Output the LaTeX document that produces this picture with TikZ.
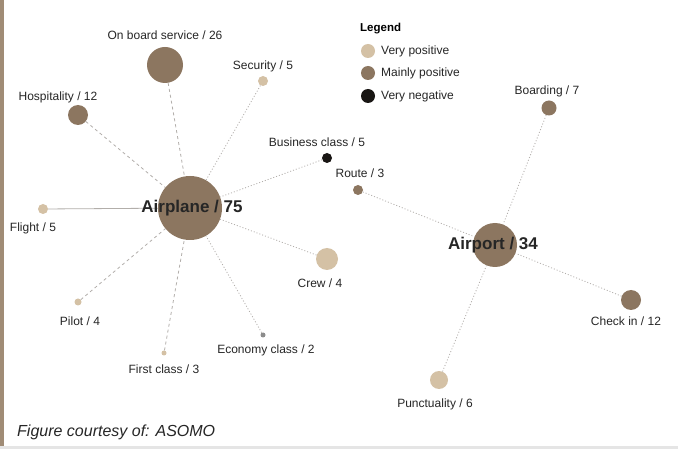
\documentclass[tikz,border=0pt]{standalone}
\usepackage{fontspec}
\setmainfont{Liberation Sans}
\definecolor{vpos}{RGB}{212,193,165}
\definecolor{mpos}{RGB}{140,118,96}
\definecolor{vneg}{RGB}{25,22,20}
\definecolor{edgec}{RGB}{178,174,170}
\definecolor{barc}{RGB}{160,140,118}
\begin{document}
\begin{tikzpicture}[x=1pt,y=-1pt,
  dot/.style={circle,inner sep=0pt,minimum size=#1,draw=none},
  fpos/.style={fill=vpos},
  fmid/.style={fill=mpos},
  fneg/.style={fill=vneg},
  lbl/.style={font=\fontsize{12}{14}\selectfont,text=black!85,inner sep=0pt},
  hub/.style={font=\bfseries\fontsize{17}{20}\selectfont,text=black!85,inner sep=0pt},
  edge/.style={draw=edgec,line width=0.8pt},
  dsh/.style={edge,dash pattern=on 3pt off 3pt},
  dtt/.style={edge,dash pattern=on 1pt off 2pt},
]
\useasboundingbox (0,0) rectangle (678,449);
\fill[white] (0,0) rectangle (678,449);
\fill[barc] (0,0) rectangle (4,446);
\fill[black!10] (0,446) rectangle (678,449);

% nodes
\node[dot=64pt,fmid] (airplane) at (190,208) {};
\node[dot=44pt,fmid] (airport) at (495,245) {};
\node[dot=36pt,fmid] (onboard) at (165,65) {};
\node[dot=10pt,fpos] (security) at (263,81) {};
\node[dot=20pt,fmid] (hosp) at (78,115) {};
\node[dot=10pt,fneg] (business) at (327,158) {};
\node[dot=10pt,fpos] (flight) at (43,209) {};
\node[dot=22pt,fpos] (crew) at (327,259) {};
\node[dot=7pt,fpos] (pilot) at (78,302) {};
\node[dot=5pt,fpos] (first) at (164,353) {};
\node[dot=5pt,fill=black!45] (economy) at (263,335) {};
\node[dot=10pt,fmid] (route) at (358,190) {};
\node[dot=15pt,fmid] (boarding) at (549,108) {};
\node[dot=20pt,fmid] (checkin) at (631,300) {};
\node[dot=18pt,fpos] (punct) at (439,380) {};

% edges
\draw[dsh] (onboard) -- (airplane);
\draw[dtt] (security) -- (airplane);
\draw[dsh] (hosp) -- (airplane);
\draw[dtt] (business) -- (airplane);
\draw[edge] (flight) -- (airplane);
\draw[dtt] (crew) -- (airplane);
\draw[dsh] (pilot) -- (airplane);
\draw[dsh] (first) -- (airplane);
\draw[dtt] (economy) -- (airplane);
\draw[dtt] (route) -- (airport);
\draw[dtt] (boarding) -- (airport);
\draw[dtt] (checkin) -- (airport);
\draw[dtt] (punct) -- (airport);

% labels
\node[hub] (lairplane) at (192,208) {Airplane / 75};
\node[hub] (lairport) at (493,245) {Airport / 34};
\node[lbl] (lonboard) at (165,35) {On board service / 26};
\node[lbl] (lsecurity) at (263,66) {Security / 5};
\node[lbl] (lhosp) at (58,97) {Hospitality / 12};
\node[lbl] (lbusiness) at (317,142) {Business class / 5};
\node[lbl] (lflight) at (33,228) {Flight / 5};
\node[lbl] (lcrew) at (320,283) {Crew / 4};
\node[lbl] (lpilot) at (80,321) {Pilot / 4};
\node[lbl] (lfirst) at (164,369) {First class / 3};
\node[lbl] (leconomy) at (266,350) {Economy class / 2};
\node[lbl] (lroute) at (360,173) {Route / 3};
\node[lbl] (lboarding) at (547,91) {Boarding / 7};
\node[lbl] (lcheckin) at (626,321) {Check in / 12};
\node[lbl] (lpunct) at (435,404) {Punctuality / 6};

% legend
\node[font=\bfseries\fontsize{11.5}{14}\selectfont,anchor=west,inner sep=0pt] (legend) at (360,29) {Legend};
\node[dot=14pt,fpos] (lg1) at (368,51) {};
\node[dot=14pt,fmid] (lg2) at (368,73) {};
\node[dot=14pt,fneg] (lg3) at (368,96) {};
\node[lbl,anchor=west] (lt1) at (381,51) {Very positive};
\node[lbl,anchor=west] (lt2) at (381,73) {Mainly positive};
\node[lbl,anchor=west] (lt3) at (381,96) {Very negative};

% caption
\node[font=\itshape\fontsize{16}{19}\selectfont,anchor=west,inner sep=0pt,text=black!85] (caption) at (17,432) {Figure courtesy of: ASOMO};
\end{tikzpicture}
\end{document}
